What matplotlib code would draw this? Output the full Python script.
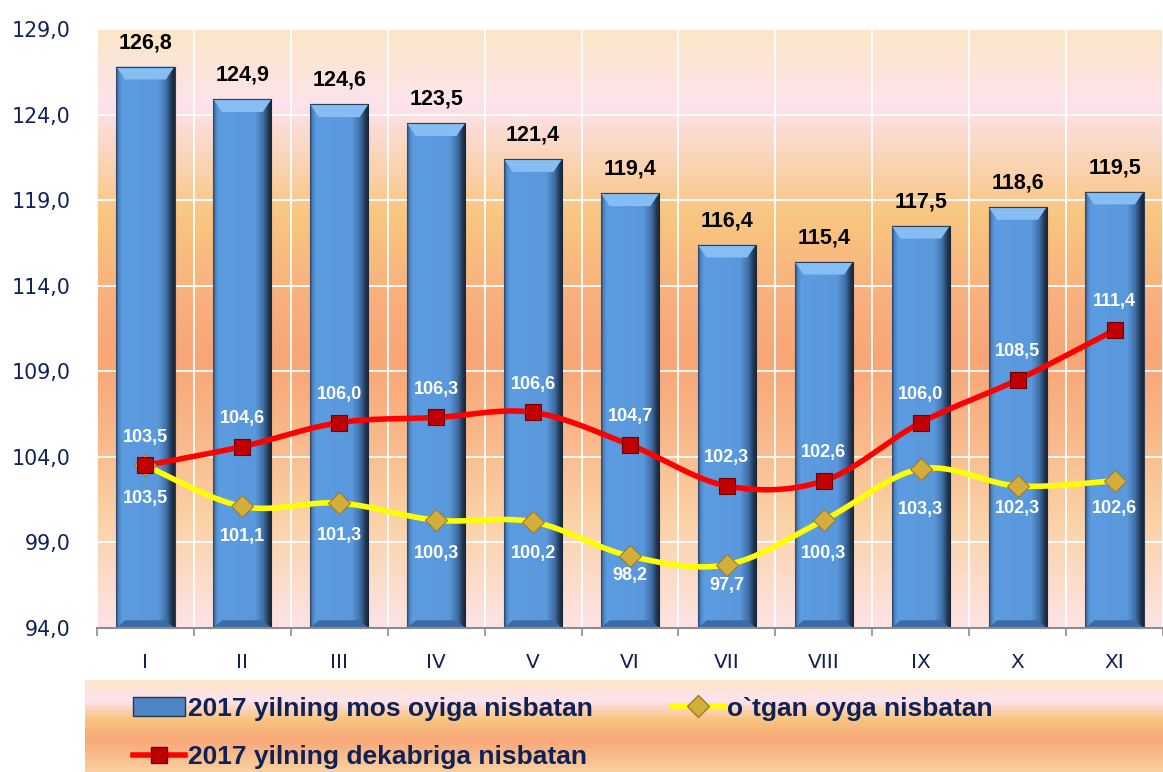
import numpy as np
import matplotlib.pyplot as plt
from matplotlib.colors import LinearSegmentedColormap
from matplotlib.patches import Polygon
from matplotlib.lines import Line2D

months = ['I', 'II', 'III', 'IV', 'V', 'VI', 'VII', 'VIII', 'IX', 'X', 'XI']
mos_oy = [126.8, 124.9, 124.6, 123.5, 121.4, 119.4, 116.4, 115.4, 117.5, 118.6, 119.5]
dekabr = [103.5, 104.6, 106.0, 106.3, 106.6, 104.7, 102.3, 102.6, 106.0, 108.5, 111.4]
otgan_oy = [103.5, 101.1, 101.3, 100.3, 100.2, 98.2, 97.7, 100.3, 103.3, 102.3, 102.6]
yticks = [94.0, 99.0, 104.0, 109.0, 114.0, 119.0, 124.0, 129.0]

name_bar = '2017 yilning mos oyiga nisbatan'
name_yel = 'o`tgan oyga nisbatan'
name_red = '2017 yilning dekabriga nisbatan'

# label offsets (data units)
yel_dy = [-1.96, -1.78, -1.92, -1.92, -1.82, -1.16, -1.19, -1.92, -2.35, -1.29, -1.59]
red_dy = 1.65
bar_dy = 1.4

navy = '#0f2157'
ymin, ymax = 94, 129


def fmt(v):
    return f'{v:.1f}'.replace('.', ',')


def smooth(xs, ys, n=40):
    # excel-like smoothed line (bezier through the points)
    p = np.column_stack([xs, ys]).astype(float)
    pe = np.vstack([p[0], p, p[-1]])
    t = np.linspace(0, 1, n)[:, None]
    out = []
    for i in range(len(p) - 1):
        p0, p1, p2, p3 = pe[i], pe[i + 1], pe[i + 2], pe[i + 3]
        c1 = p1 + (p2 - p0) / 6
        c2 = p2 - (p3 - p1) / 6
        seg = (1 - t) ** 3 * p1 + 3 * (1 - t) ** 2 * t * c1 + 3 * (1 - t) * t ** 2 * c2 + t ** 3 * p2
        out.append(seg if i == 0 else seg[1:])
    out = np.vstack(out)
    return out[:, 0], out[:, 1]


def vgrad(stops, n=300):
    cm = LinearSegmentedColormap.from_list('g', stops)
    return cm(np.linspace(0, 1, n))[:, None, :]


bg_stops = [(0.0, '#fbe7c8'), (0.12, '#fde3ec'), (0.20, '#fbd7c0'), (0.31, '#f9c680'),
            (0.45, '#f8b07e'), (0.55, '#f8a676'), (0.68, '#f9b88a'), (0.82, '#fbd2a6'),
            (1.0, '#fde3e4')]

fig = plt.figure(figsize=(11.63, 7.72), dpi=100)
ax = fig.add_axes([97 / 1163, 1 - 628 / 772, (1163 - 97) / 1163, (628 - 29) / 772])

x = np.arange(len(months))
ax.imshow(vgrad(bg_stops), extent=[-0.5, len(months) - 0.5, ymin, ymax], aspect='auto', zorder=0)

# bars with shaded look
bar_cm = LinearSegmentedColormap.from_list('b', [
    (0.0, '#2c4a70'), (0.04, '#4f86c4'), (0.10, '#5c9ce0'), (0.72, '#5a98dc'),
    (0.86, '#3f6ea6'), (0.95, '#22374f'), (1.0, '#18263a')])
bar_grad = bar_cm(np.linspace(0, 1, 100))[None, :, :]
bars = ax.bar(x, mos_oy, width=0.6, color='#5a98dc', edgecolor='#2a3f5a', linewidth=0.8, zorder=2)
for r in bars:
    x0, w, top = r.get_x(), r.get_width(), r.get_height()
    im = ax.imshow(bar_grad, extent=[x0, x0 + w, ymin, top], aspect='auto', zorder=2.1)
    im.set_clip_path(r)
    dx, dy = 0.09, 0.75
    ax.add_patch(Polygon([(x0, top), (x0 + w, top), (x0 + w - dx, top - dy), (x0 + dx, top - dy)],
                         closed=True, facecolor='#86bdf2', edgecolor='none', zorder=2.2))
    ax.add_patch(Polygon([(x0, ymin), (x0 + w, ymin), (x0 + w - dx, ymin + 0.45), (x0 + dx, ymin + 0.45)],
                         closed=True, facecolor='#3c6aa4', edgecolor='none', zorder=2.2))
    ax.plot([x0, x0 + w], [top, top], color='#2a3f5a', lw=0.8, zorder=2.3)

for i, v in enumerate(mos_oy):
    ax.text(i, v + bar_dy, fmt(v), ha='center', va='center', fontsize=15.5, fontweight='bold',
            family='Liberation Sans', color='black', zorder=5)

# lines
sx, sy = smooth(x, otgan_oy)
ax.plot(sx, sy, color='#ffff00', lw=4, solid_capstyle='round', zorder=3)
ax.plot(x, otgan_oy, 'D', ms=11, mfc='#d4ae3a', mec='#9c7c28', mew=0.8, zorder=4)
sx, sy = smooth(x, dekabr)
ax.plot(sx, sy, color='#ff0000', lw=4, solid_capstyle='round', zorder=3.5)
ax.plot(x, dekabr, 's', ms=12, mfc='#c00000', mec='#6e0000', mew=0.8, zorder=4.5)

for i, v in enumerate(dekabr):
    ax.text(i, v + red_dy, fmt(v), ha='center', va='center', fontsize=13, fontweight='bold',
            family='Liberation Sans', color='white', zorder=5)
for i, v in enumerate(otgan_oy):
    ax.text(i, v + yel_dy[i], fmt(v), ha='center', va='center', fontsize=13, fontweight='bold',
            family='Liberation Sans', color='white', zorder=5)

ax.set_xlim(-0.5, len(months) - 0.5)
ax.set_ylim(ymin, ymax)
ax.set_yticks(yticks)
ax.set_yticklabels([fmt(v) for v in yticks])
ax.set_xticks(x)
ax.set_xticklabels(months)
ax.set_xticks(np.arange(len(months) + 1) - 0.5, minor=True)
ax.tick_params(axis='y', length=0, pad=19, labelsize=14.8, labelcolor=navy)
ax.tick_params(axis='x', which='major', length=0, pad=18, labelsize=14.5, labelcolor=navy)
ax.tick_params(axis='x', which='minor', length=6, width=1.2, color='#8c8c8c', direction='out')
ax.grid(True, axis='y', color='white', lw=1.3, zorder=0.5)
ax.grid(True, axis='x', which='minor', color='white', lw=1.3, zorder=0.5)
ax.set_axisbelow(True)
for s in ['top', 'right', 'left']:
    ax.spines[s].set_visible(False)
ax.spines['bottom'].set_color('#8c8c8c')
ax.spines['bottom'].set_linewidth(1.5)

# legend panel
lax = fig.add_axes([85 / 1163, 0, (1163 - 85) / 1163, (772 - 680) / 772])
leg_stops = [(0.0, '#fbe6c8'), (0.22, '#fde3ee'), (0.43, '#f9c47e'), (0.65, '#f8a878'), (1.0, '#fad0a0')]
lax.imshow(vgrad(leg_stops), extent=[0, 1, 0, 1], aspect='auto')
lax.set_xlim(0, 1)
lax.set_ylim(0, 1)
lax.axis('off')

h_bar = plt.Rectangle((0, 0), 1, 1, facecolor='#4f86c4', edgecolor='#22374f', lw=1)
h_red = Line2D([], [], color='#ff0000', lw=4, marker='s', ms=12, mfc='#c00000', mec='#6e0000')
h_yel = Line2D([], [], color='#ffff00', lw=4, marker='D', ms=11, mfc='#d4ae3a', mec='#9c7c28')
lax.legend([h_bar, h_red, h_yel], [name_bar, name_red, name_yel], ncol=2, loc='upper left',
           bbox_to_anchor=(0.027, 1.02), frameon=False, handlelength=2.0, handletextpad=0.1,
           columnspacing=3.0, labelspacing=0.93, borderpad=0.2,
           prop={'family': 'Liberation Sans', 'weight': 'bold', 'size': 19}, labelcolor=navy)

fig.savefig('out.png', dpi=100)
